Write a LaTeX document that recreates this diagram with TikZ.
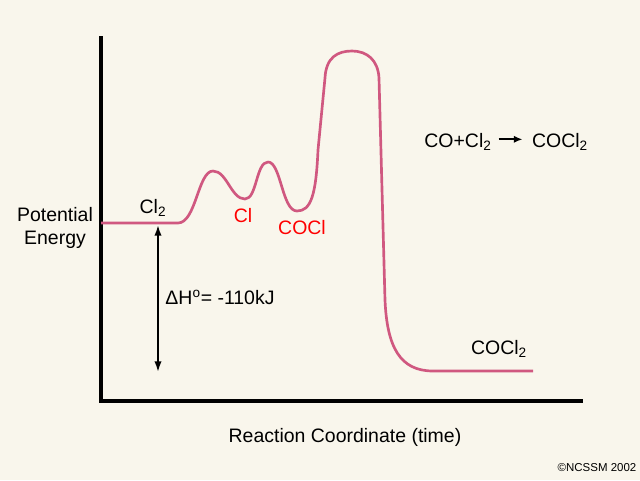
\documentclass[tikz,border=0pt]{standalone}
\usepackage{fontspec}
\setmainfont{Liberation Sans}
\usetikzlibrary{arrows.meta}
\definecolor{cream}{RGB}{249,246,236}
\definecolor{rosepink}{RGB}{208,88,128}

\begin{document}
\begin{tikzpicture}[x=0.75pt,y=-0.75pt,
	axisline/.style={black, line width=2.3pt},
	energyline/.style={rosepink, line width=2pt, line join=round},
	lbl/.style={font=\fontsize{14.6}{17}\selectfont, inner sep=0pt},
	speclbl/.style={lbl, red}]
					\fill [cream] (0,0) rectangle (640,480);
					\useasboundingbox (0,0) rectangle (640,480);

					% axes
					\coordinate (ytop) at (101,36);
					\coordinate (origin) at (101,401);
					\coordinate (xend) at (583,401);
					\draw [axisline] (ytop) -- (origin) -- (xend);

					% energy profile
					\draw [energyline] (101,223) -- (178,223)
						.. controls (196,223) and (198,171) .. (213,171)
						.. controls (227,171) and (231,199) .. (245,199)
						.. controls (257,199) and (256,162) .. (268,162)
						.. controls (281,162) and (282,211) .. (297,211)
						.. controls (311,211) and (316,195) .. (318,150)
						-- (325,78)
						.. controls (326,57) and (338,51) .. (352,51)
						.. controls (367,51) and (378,60) .. (379,78)
						-- (385,300)
						.. controls (387,347) and (400,371) .. (433,371)
						-- (533,371);

					% enthalpy arrow
					\coordinate (dhtop) at (158,225);
					\coordinate (dhbot) at (158,372);
					\draw [{Latex[length=8pt,width=5.5pt]}-{Latex[length=8pt,width=5.5pt]}, line width=1.4pt] (dhtop) -- (dhbot);

					% labels
					\node [lbl, align=center] (pe) at (55,228) {Potential\\[0pt]Energy};
					\node [lbl] (cltwo) at (153,208) {Cl\textsubscript{2}};
					\node [speclbl] (cl) at (243,216) {Cl};
					\node [speclbl] (cocl) at (302,228) {COCl};
					\node [lbl] (dh) at (220,297) {ΔH\textsuperscript{o}= -110kJ};
					\node [lbl] (prodlow) at (499,349) {COCl\textsubscript{2}};
					\node [lbl] (xlab) at (345,437) {Reaction Coordinate (time)};

					% overall reaction
					\node [lbl] (reac) at (458,142) {CO+Cl\textsubscript{2}};
					\node [lbl] (prod) at (560,142) {COCl\textsubscript{2}};
					\draw [-{Latex[length=6.5pt,width=5.5pt]}, line width=1.4pt] ([xshift=5pt,yshift=2pt]reac.east) -- ([xshift=-7pt,yshift=2pt]prod.west);

					\node [inner sep=0pt, font=\fontsize{8.6}{10}\selectfont] (copy) at (597,468) {©NCSSM 2002};
				\end{tikzpicture}
\end{document}
